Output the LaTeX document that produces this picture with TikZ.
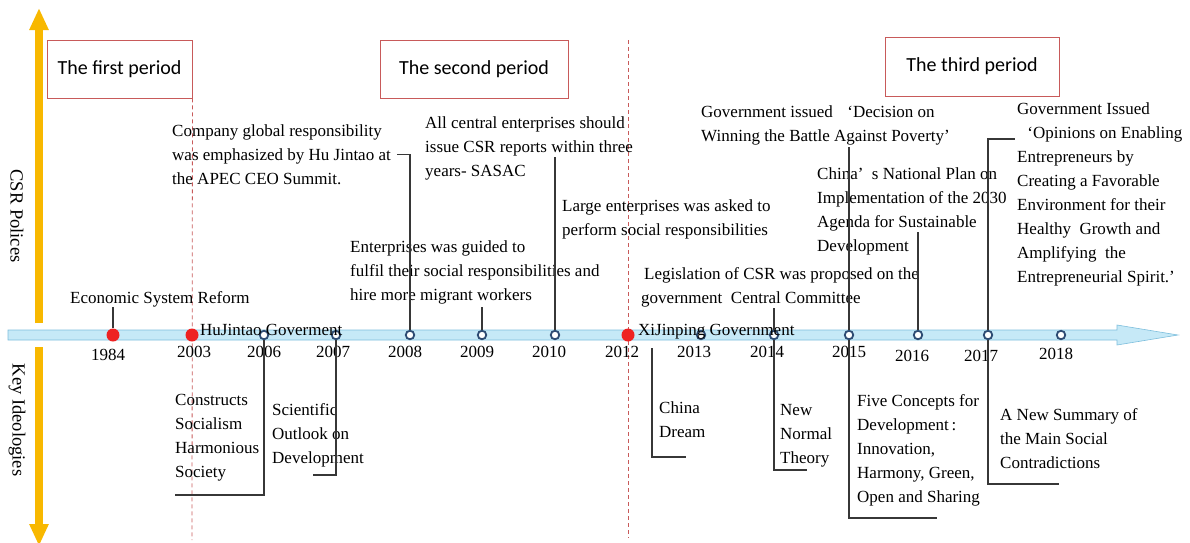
\documentclass[tikz,border=0pt]{standalone}
\usepackage{fontspec}
\setmainfont{Liberation Serif}
\newfontfamily\periodfont{Carlito}
\usetikzlibrary{arrows.meta}
\definecolor{csryellow}{RGB}{248,184,0}
\definecolor{barblue}{RGB}{198,233,247}
\definecolor{baredge}{RGB}{125,190,220}
\definecolor{dotblue}{RGB}{45,75,115}
\definecolor{dotred}{RGB}{238,34,34}
\definecolor{boxred}{RGB}{200,90,90}
\definecolor{linegray}{RGB}{55,55,55}
\begin{document}
\begin{tikzpicture}[x=1pt,y=-1pt,
  yarrow/.style={csryellow, line width=8pt, -{Triangle[width=18pt,length=22pt]}},
  axislabel/.style={rotate=-90, inner sep=0pt, font=\fontsize{18.5}{20}\selectfont},
  periodbox/.style={draw=boxred, line width=0.9pt, minimum height=58pt, inner sep=0pt, font=\periodfont\fontsize{20}{24}\selectfont},
  perdash/.style={boxred, line width=0.8pt, dash pattern=on 4pt off 3pt},
  opendot/.style={circle, draw=dotblue, line width=1.8pt, fill=white, minimum size=8.5pt, inner sep=0pt},
  reddot/.style={circle, fill=dotred, minimum size=13pt, inner sep=0pt},
  yr/.style={anchor=base, inner sep=0pt, font=\fontsize{17}{20}\selectfont},
  txt/.style={anchor=base west, align=left, inner sep=0pt, font=\fontsize{17}{24}\selectfont},
  conn/.style={linegray, line width=1.1pt}]
\useasboundingbox (0,0) rectangle (1190,542);
\draw[yarrow] (39,323) -- (39,8);
\draw[yarrow] (39,347) -- (39,546);
\node[axislabel] (csr) at (17,216) {CSR Polices};
\node[axislabel] (ideo) at (17,420) {Key Ideologies};
\node[periodbox, minimum width=145pt] (first) at (119.5,69) {The first period};
\node[periodbox, minimum width=188pt] (second) at (474,69) {The second period};
\node[periodbox, minimum width=174pt, minimum height=59pt] (third) at (972,66.5) {The third period};
\coordinate (split) at (628,40);
\draw[perdash] (first.south east) -- (192,540);
\draw[perdash] (split) -- (628,538);
\draw[baredge, fill=barblue, line width=0.6pt] (8,330) -- (1117,330) -- (1117,325) -- (1178,335) -- (1117,345) -- (1117,340) -- (8,340) -- cycle;
\node[reddot] (d1984) at (113,335) {};
\node[reddot] (d2003) at (192,335) {};
\node[opendot] (d2006) at (264,335) {};
\node[opendot] (d2007) at (336,335) {};
\node[opendot] (d2008) at (410,335) {};
\node[opendot] (d2009) at (482,335) {};
\node[opendot] (d2010) at (555,335) {};
\node[reddot] (d2012) at (628,335) {};
\node[opendot] (d2013) at (701,335) {};
\node[opendot] (d2014) at (774,335) {};
\node[opendot] (d2015) at (849,335) {};
\node[opendot] (d2016) at (918,335) {};
\node[opendot] (d2017) at (988,335) {};
\node[opendot] (d2018) at (1061,335) {};
\node[yr] (y1984) at (108,360) {1984};
\node[yr] (y2003) at (194,357) {2003};
\node[yr] (y2006) at (264,357) {2006};
\node[yr] (y2007) at (333,357) {2007};
\node[yr] (y2008) at (405,357) {2008};
\node[yr] (y2009) at (477,357) {2009};
\node[yr] (y2010) at (549,357) {2010};
\node[yr] (y2012) at (622,357) {2012};
\node[yr] (y2013) at (694,357) {2013};
\node[yr] (y2014) at (767,357) {2014};
\node[yr] (y2015) at (849,357) {2015};
\node[yr] (y2016) at (912,361) {2016};
\node[yr] (y2017) at (981,361) {2017};
\node[yr] (y2018) at (1056,359) {2018};
\node[txt] (reform) at (70,303) {Economic System Reform};
\node[txt] (hugov) at (200,335) {HuJintao Goverment};
\node[txt] (apec) at (172,184) {Company global responsibility\\was emphasized by Hu Jintao at\\the APEC CEO Summit.};
\node[txt] (migrant) at (350,300) {Enterprises was guided to\\fulfil their social responsibilities and\\hire more migrant workers};
\node[txt] (sasac) at (425,176) {All central enterprises should\\issue CSR reports within three\\years- SASAC};
\node[txt] (large) at (562,235) {Large enterprises was asked to\\perform social responsibilities};
\node[txt] (legis) at (641,303) {\hspace{3pt}Legislation of CSR was proposed on the\\government\ \ Central Committee};
\node[txt] (xigov) at (638,335) {XiJinping Government};
\node[txt] (poverty) at (701,141) {Government issued\hspace{0.85em}‘Decision on\\Winning the Battle Against Poverty’};
\node[txt] (agenda) at (817,251) {China’\hspace{0.5em}s National Plan on\\Implementation of the 2030\\Agenda for Sustainable\\Development};
\node[txt] (opinions) at (1017,282) {Government Issued\\\hspace{0.6em}‘Opinions on Enabling\\Entrepreneurs by\\Creating a Favorable\\Environment for their\\Healthy\ \ Growth and\\Amplifying\ \ the\\Entrepreneurial Spirit.’};
\node[txt] (harmony) at (175,477) {Constructs\\Socialism\\Harmonious\\Society};
\node[txt] (outlook) at (272,463) {Scientific\\Outlook on\\Development};
\node[txt] (dream) at (659,437) {China\\Dream};
\node[txt] (newnormal) at (780,463) {New\\Normal\\Theory};
\node[txt] (fiveconc) at (857,502) {Five Concepts for\\Development\thinspace:\\Innovation,\\Harmony, Green,\\Open and Sharing};
\node[txt] (summary) at (1000,468) {A New Summary of\\the Main Social\\Contradictions};
\coordinate (sasactip) at (555,157);
\coordinate (agendatip) at (918,232);
\coordinate (opiniontip) at (1015,139);
\coordinate (harmonyend) at (175,495);
\coordinate (outlookend) at (313,475);
\coordinate (dreamtop) at (652,348);
\coordinate (dreamend) at (686,457);
\coordinate (normalend) at (807,470);
\coordinate (fiveend) at (937,518);
\coordinate (summaryend) at (1059,484);
\draw[conn] (d1984.north) -- (d1984 |- reform.south);
\draw[conn] (d2008.north) |- ([xshift=6pt]apec.east);
\draw[conn] (d2009.north) -- ([yshift=-3pt]d2009 |- migrant.south);
\draw[conn] (d2010.north) -- (sasactip);
\draw[conn] (d2014.north) -- ([yshift=-1pt]d2014 |- legis.south);
\draw[conn] (d2015.north) -- ([yshift=-2pt]d2015 |- poverty.south);
\draw[conn] (d2016.north) -- (agendatip);
\draw[conn] (d2017.north) |- (opiniontip);
\draw[conn] (d2006.south) |- (harmonyend);
\draw[conn] (d2007.south) |- (outlookend);
\draw[conn] (dreamtop) |- (dreamend);
\draw[conn] (d2014.south) |- (normalend);
\draw[conn] (d2015.south) |- (fiveend);
\draw[conn] (d2017.south) |- (summaryend);
\end{tikzpicture}
\end{document}
